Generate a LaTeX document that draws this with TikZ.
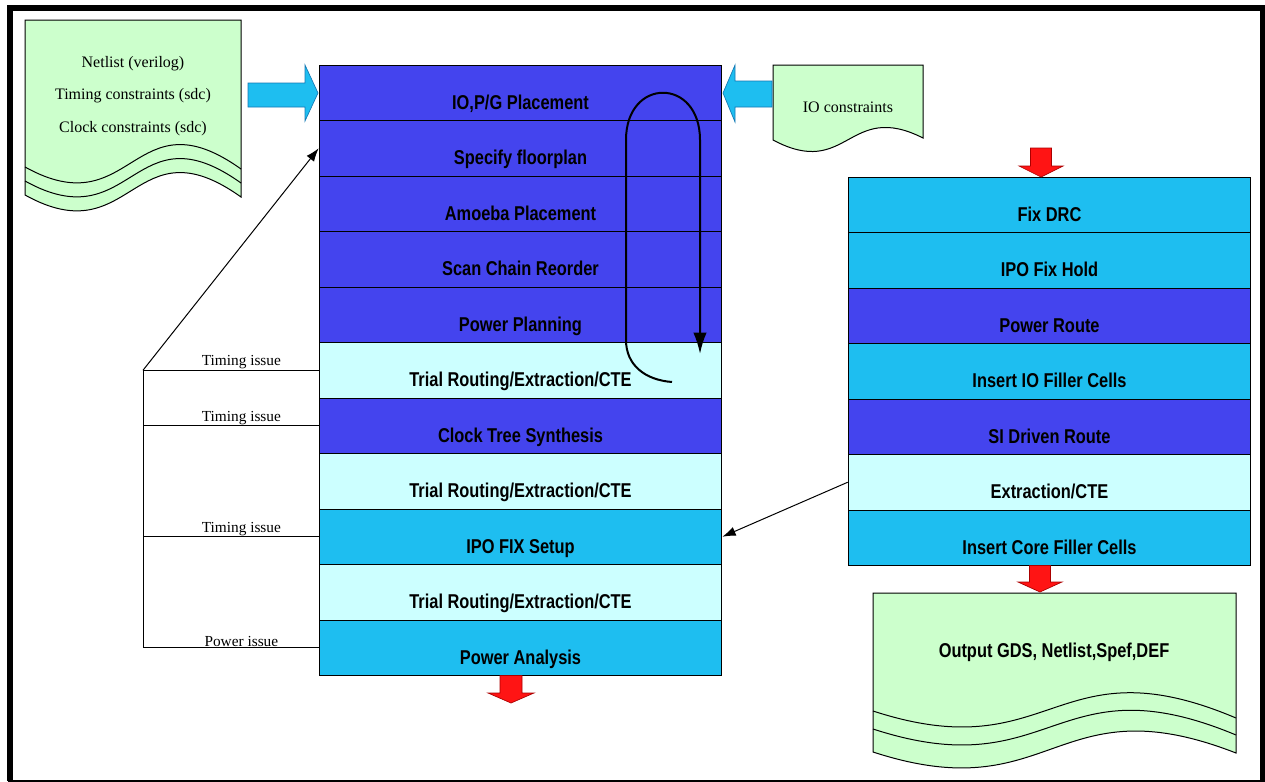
\documentclass[tikz,border=0pt]{standalone}
\usepackage{fontspec}
\usepackage{xcolor}
\usepackage{tikz}
\usetikzlibrary{arrows.meta}
\setmainfont{Liberation Serif}
\newfontfamily\stagefont[FakeStretch=0.82]{Liberation Sans}

\definecolor{deepblue}{RGB}{68,68,238}
\definecolor{skyblue}{RGB}{30,190,240}
\definecolor{paleblue}{RGB}{204,255,255}
\definecolor{palegreen}{RGB}{204,255,204}
\definecolor{arrowedge}{RGB}{20,120,180}
\definecolor{flowred}{RGB}{255,20,20}
\definecolor{rededge}{RGB}{170,0,0}

\tikzset{
  stagefnt/.style={font=\stagefont\bfseries\fontsize{15}{18}\selectfont},
  stage/.style={stagefnt, draw, line width=0.75pt, minimum width=302pt, minimum height=41.625pt, inner sep=0pt, text height=25pt, text depth=0pt},
  issue/.style={font=\fontsize{11.5}{13}\selectfont, inner sep=0.5pt, anchor=south},
  docfnt/.style={font=\fontsize{12}{24.4}\selectfont},
  thinarrow/.style={line width=0.75pt, -{Latex[length=10pt,width=7pt]}},
  blockarrow/.style={fill=skyblue, draw=arrowedge, line width=0.5pt},
  redarrow/.style={fill=flowred, draw=rededge, line width=0.5pt},
}

\begin{document}
\begin{tikzpicture}[x=0.75pt,y=0.75pt,yscale=-1,xscale=1]

\useasboundingbox (0,0) rectangle (1265,782);

\fill[white] (0,0) rectangle (1265,782);

% frame
\draw[line width=4.5pt, line join=miter] (10,781) -- (10,8) -- (1262.5,8) -- (1262.5,781);

\draw[line width=1.5pt] (8,781) -- (1265,781);

% left column
\node[stage, fill=deepblue] (l1) at (520.5,92.75) {IO,P/G Placement};

\node[stage, fill=deepblue] (l2) at (520.5,148.25) {Specify floorplan};

\node[stage, fill=deepblue] (l3) at (520.5,203.75) {Amoeba Placement};

\node[stage, fill=deepblue] (l4) at (520.5,259.25) {Scan Chain Reorder};

\node[stage, fill=deepblue] (l5) at (520.5,314.75) {Power Planning};

\node[stage, fill=paleblue] (l6) at (520.5,370.25) {Trial Routing/Extraction/CTE};

\node[stage, fill=deepblue] (l7) at (520.5,425.75) {Clock Tree Synthesis};

\node[stage, fill=paleblue] (l8) at (520.5,481.25) {Trial Routing/Extraction/CTE};

\node[stage, fill=skyblue] (l9) at (520.5,536.75) {IPO FIX Setup};

\node[stage, fill=paleblue] (l10) at (520.5,592.25) {Trial Routing/Extraction/CTE};

\node[stage, fill=skyblue] (l11) at (520.5,647.75) {Power Analysis};

% right column
\node[stage, fill=skyblue] (r1) at (1049.5,204.75) {Fix DRC};

\node[stage, fill=skyblue] (r2) at (1049.5,260.25) {IPO Fix Hold};

\node[stage, fill=deepblue] (r3) at (1049.5,315.75) {Power Route};

\node[stage, fill=skyblue] (r4) at (1049.5,371.25) {Insert IO Filler Cells};

\node[stage, fill=deepblue] (r5) at (1049.5,426.75) {SI Driven Route};

\node[stage, fill=paleblue] (r6) at (1049.5,482.25) {Extraction/CTE};

\node[stage, fill=skyblue] (r7) at (1049.5,537.75) {Insert Core Filler Cells};

% input documents
\draw[fill=palegreen, line width=0.75pt] (25,195) -- (25,20) -- (241,20) -- (241,197) .. controls (133,120) and (133,255) .. (25,195) -- cycle;

\draw[line width=0.75pt] (25,167) .. controls (133,227) and (133,92) .. (241,169);

\draw[line width=0.75pt] (25,181) .. controls (133,241) and (133,106) .. (241,183);

\node[docfnt, align=center] (netlist) at (133,96) {Netlist (verilog)\\Timing constraints (sdc)\\Clock constraints (sdc)};

\draw[fill=palegreen, line width=0.75pt] (773,140) -- (773,65) -- (923,65) -- (923,138) .. controls (848,100) and (848,180) .. (773,140) -- cycle;

\node[docfnt] (ioconst) at (848,107) {IO constraints};

\draw[fill=palegreen, line width=0.75pt] (873,752) -- (873,593) -- (1236,593) -- (1236,753) .. controls (1054,682) and (1054,811) .. (873,752) -- cycle;

\draw[line width=0.75pt] (873,711) .. controls (1054,770) and (1054,641) .. (1236,718);

\draw[line width=0.75pt] (873,729) .. controls (1054,788) and (1054,659) .. (1236,735);

\node[stagefnt] (output) at (1054,652) {Output GDS, Netlist,Spef,DEF};

% block arrows
\draw[blockarrow] (248,83) -- (305,83) -- (305,65) -- (318,93) -- (305,121) -- (305,107) -- (248,107) -- cycle;

\draw[blockarrow] (772,81) -- (735,81) -- (735,65) -- (723,93) -- (735,122) -- (735,107) -- (772,107) -- cycle;

\draw[redarrow] (1030.5,148) -- (1051.5,148) -- (1051.5,166) -- (1063,166) -- (1041,177) -- (1019,166) -- (1030.5,166) -- cycle;

\draw[redarrow] (1029.5,565.5) -- (1050.5,565.5) -- (1050.5,582) -- (1062,582) -- (1040,592) -- (1018,582) -- (1029.5,582) -- cycle;

\draw[redarrow] (500,675.5) -- (522,675.5) -- (522,693) -- (534,693) -- (511,703) -- (488,693) -- (500,693) -- cycle;

% loop
\coordinate (loopstart) at (672,382);

\coordinate (loopend) at (700,354);

\draw[line width=1.5pt, -{Latex[length=16pt,width=10pt]}] (loopstart) .. controls (645,380) and (626,365) .. (626,340) -- (626,140) .. controls (626,77) and (700,77) .. (700,140) -- (loopend);

% feedback
\coordinate (fb) at (143,370.25);

\draw[line width=0.75pt] (fb) -- (fb |- l11.west);

\draw[line width=0.75pt] (fb) -- (l6.west) node[issue, pos=0.56] {Timing issue};

\draw[line width=0.75pt] (fb |- l7.west) -- (l7.west) node[issue, pos=0.56] {Timing issue};

\draw[line width=0.75pt] (fb |- l9.west) -- (l9.west) node[issue, pos=0.56] {Timing issue};

\draw[line width=0.75pt] (fb |- l11.west) -- (l11.west) node[issue, pos=0.56] {Power issue};

\draw[thinarrow] (fb) -- (l2.west);

\draw[thinarrow] (r6.west) -- (l9.east);

\end{tikzpicture}
\end{document}
